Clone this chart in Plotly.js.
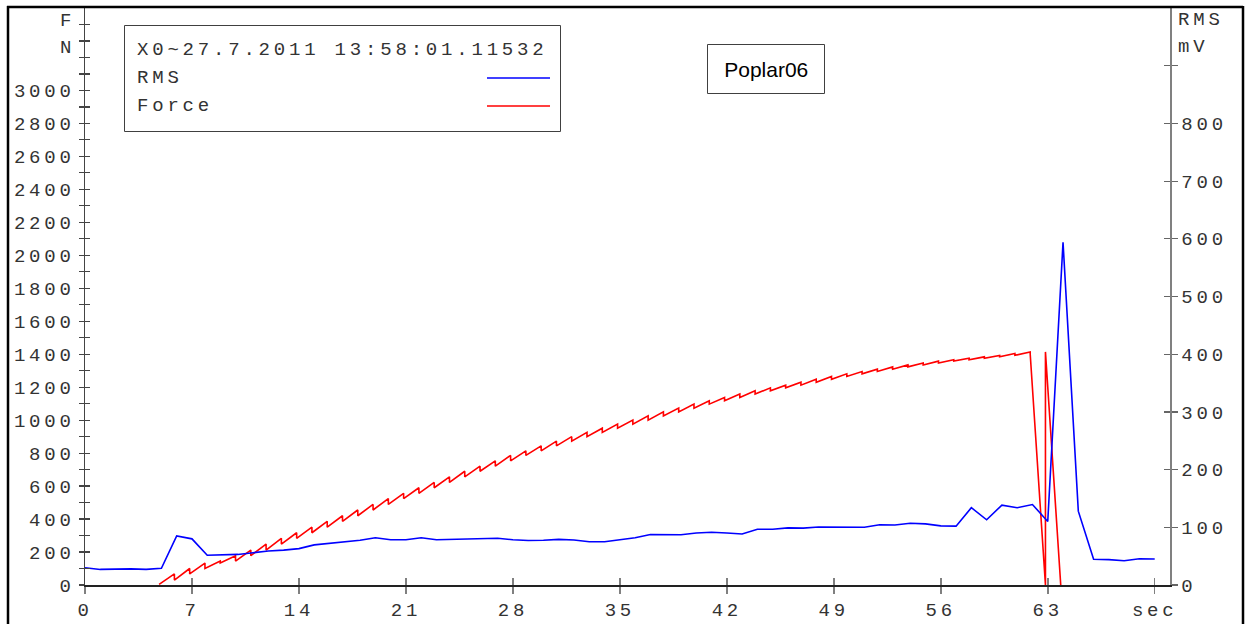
<!DOCTYPE html>
<html><head><meta charset="utf-8">
<script src="https://cdn.plot.ly/plotly-3.0.1.min.js"></script>
<style>
html,body{margin:0;padding:0;background:#fff;}
#chart{width:1245px;height:624px;}
svg text{letter-spacing:3.8px;}
g.annotation[data-index="0"] text{letter-spacing:0;}
</style></head><body><div id="chart"></div>
<script>
// RMS (mV), one sample per second
const rmsTime = [0,1,2,3,4,5,6,7,8,9,10,11,12,13,14,15,16,17,18,19,20,21,22,23,24,25,26,27,28,29,30,31,32,33,34,35,36,37,38,39,40,41,42,43,44,45,46,47,48,49,50,51,52,53,54,55,56,57,58,59,60,61,62,63,64,65,66,67,68,69,70];
const rmsValues = [30,27,27.5,28,27,29,85,80,51.5,52,53,56,59,60.5,63,69.5,72.5,75,77.5,82,78.5,78.5,82,78.5,79,80,80,81,78.5,77,77.5,79,78,75,75,79,82,87.5,87,87,90,91.5,90,88.5,96.5,96.5,99,98.5,100.5,100.5,99.5,100,104.5,104,107,106,102.5,102,134,113,138.5,134,139.5,110,594,128,44.5,44,42,45.5,45];

// Force (N): value reached at each sample time (sawtooth trace drops back to the previous value)
const forceTime = [3.85,4.85,5.85,6.85,7.85,8.85,9.85,10.85,11.85,12.85,13.85,14.85,15.85,16.85,17.85,18.85,19.85,20.85,21.85,22.85,23.85,24.85,25.85,26.85,27.85,28.85,29.85,30.85,31.85,32.85,33.85,34.85,35.85,36.85,37.85,38.85,39.85,40.85,41.85,42.85,43.85,44.85,45.85,46.85,47.85,48.85,49.85,50.85,51.85,52.85,53.85,54.85,55.85,56.85,57.85,58.85,59.85,60.85,61.85,62.85,63.85];
const forcePeak = [4,30,67,100,133,145,178,212,248,283,317,351,386,420,455,489,524,556,590,622,656,690,721,753,786,814,844,873,900,926,951,976,1000,1026,1050,1073,1097,1117,1137,1158,1178,1196,1212,1230,1248,1265,1281,1295,1309,1323,1335,1347,1358,1366,1375,1384,1393,1404,1414,0,0];

const timeTicks = [0,7,14,21,28,35,42,49,56,63,70];
const timeTickLabels = ['0','7','14','21','28','35','42','49','56','63','sec'];
const forceTicks = [0,100,200,300,400,500,600,700,800,900,1000,1100,1200,1300,1400,1500,1600,1700,1800,1900,2000,2100,2200,2300,2400,2500,2600,2700,2800,2900,3000,3100,3200,3300,3400];
const forceTickLabels = ['0','','200','','400','','600','','800','','1000','','1200','','1400','','1600','','1800','','2000','','2200','','2400','','2600','','2800','','3000','','','',''];
const rmsTicks = [0,100,200,300,400,500,600,700,800,900];
const rmsTickLabels = ['0','100','200','300','400','500','600','700','800',''];

const legendHeader = 'X0~27.7.2011 13:58:01.11532';
const seriesNames = ['RMS','Force'];
const chartLabel = 'Poplar06';

// build sawtooth force trace
const fx = [forceTime[1]], fy = [forcePeak[0]];
for (let i = 2; i < forceTime.length; i++) {
  fx.push(forceTime[i], forceTime[i]);
  fy.push(forcePeak[i], forcePeak[i-1]);
}

const L = 85, R = 75, T = 8, B = 39, W = 1245, H = 624;
const pw = W - L - R, ph = H - T - B;
const px = p => (p - L) / pw;
const py = p => (H - B - p) / ph;

const mono = 'Liberation Mono, Courier New, monospace';
const tcol = '#333';

const traces = [
  {x: fx, y: fy, mode: 'lines', line: {color: '#ff0000', width: 1.6}, xaxis: 'x', yaxis: 'y', name: seriesNames[1]},
  {x: rmsTime, y: rmsValues, mode: 'lines', line: {color: '#0000ff', width: 1.6}, xaxis: 'x', yaxis: 'y2', name: seriesNames[0]},
  {x: [], y: [], xaxis: 'x2', yaxis: 'y3', showlegend: false},
  {x: [], y: [], xaxis: 'x', yaxis: 'y4', showlegend: false}
];

const common = {showgrid: false, zeroline: false, fixedrange: true, tickmode: 'array'};

const layout = {
  width: W, height: H,
  margin: {l: L, r: R, t: T, b: B, pad: 0},
  paper_bgcolor: '#fff', plot_bgcolor: '#fff',
  showlegend: false, hovermode: false,
  font: {family: mono, size: 19, color: tcol},
  xaxis: Object.assign({}, common, {range: [0, 71], tickvals: timeTicks, ticktext: timeTickLabels,
    ticks: 'outside', ticklen: 7, tickwidth: 1.5, tickcolor: '#808080',
    showline: true, linecolor: '#222', linewidth: 1.5}),
  xaxis2: Object.assign({}, common, {overlaying: 'x', anchor: 'y', range: [0, 71], tickvals: timeTicks,
    ticks: 'inside', ticklen: 7, tickwidth: 1.5, tickcolor: '#808080', showticklabels: false, showline: false}),
  yaxis: Object.assign({}, common, {range: [0, 3500], tickvals: forceTicks, ticktext: forceTickLabels,
    ticks: 'outside', ticklen: 5, tickwidth: 1.2, tickcolor: '#444',
    showline: true, linecolor: '#444', linewidth: 1.5}),
  yaxis3: Object.assign({}, common, {overlaying: 'y', anchor: 'x2', side: 'left', range: [0, 3500], tickvals: forceTicks,
    ticks: 'inside', ticklen: 5, tickwidth: 1.2, tickcolor: '#444', showticklabels: false, showline: false}),
  yaxis2: Object.assign({}, common, {overlaying: 'y', side: 'right', anchor: 'x', range: [0, 1000], tickvals: rmsTicks, ticktext: rmsTickLabels,
    ticks: 'outside', ticklen: 6, tickwidth: 1.2, tickcolor: '#666',
    showline: true, linecolor: '#808080', linewidth: 1.5}),
  yaxis4: Object.assign({}, common, {overlaying: 'y', side: 'right', anchor: 'x', range: [0, 1000], tickvals: rmsTicks,
    ticks: 'inside', ticklen: 6, tickwidth: 1.2, tickcolor: '#666', showticklabels: false, showline: false}),
  shapes: [
    // outer frame
    {type: 'line', xref: 'paper', yref: 'paper', x0: px(7), x1: px(1243), y0: py(7), y1: py(7), line: {color: '#000', width: 2.5}},
    {type: 'line', xref: 'paper', yref: 'paper', x0: px(8), x1: px(8), y0: py(6), y1: py(640), line: {color: '#000', width: 2.5}},
    {type: 'line', xref: 'paper', yref: 'paper', x0: px(1243), x1: px(1243), y0: py(6), y1: py(640), line: {color: '#000', width: 2.5}},
    // legend box
    {type: 'rect', xref: 'paper', yref: 'paper', x0: px(124.5), x1: px(560.5), y0: py(131.5), y1: py(25.5), line: {color: '#404040', width: 1}, fillcolor: 'rgba(0,0,0,0)'},
    {type: 'line', xref: 'paper', yref: 'paper', x0: px(487), x1: px(550), y0: py(78), y1: py(78), line: {color: '#0000ff', width: 1.6}},
    {type: 'line', xref: 'paper', yref: 'paper', x0: px(487), x1: px(550), y0: py(106), y1: py(106), line: {color: '#ff0000', width: 1.6}},
    // label box
    {type: 'rect', xref: 'paper', yref: 'paper', x0: px(707.5), x1: px(824.5), y0: py(93.5), y1: py(44.5), line: {color: '#404040', width: 1}, fillcolor: 'rgba(0,0,0,0)'}
  ],
  annotations: [
    {text: chartLabel, xref: 'paper', yref: 'paper', x: px(766), y: py(69), xanchor: 'center', yanchor: 'middle', showarrow: false,
      font: {family: 'Liberation Sans, Arial, sans-serif', size: 21, color: '#000'}},
    {text: legendHeader, xref: 'paper', yref: 'paper', x: px(135), y: py(50), xanchor: 'left', yanchor: 'middle', showarrow: false},
    {text: seriesNames[0], xref: 'paper', yref: 'paper', x: px(135), y: py(78), xanchor: 'left', yanchor: 'middle', showarrow: false},
    {text: seriesNames[1], xref: 'paper', yref: 'paper', x: px(135), y: py(106), xanchor: 'left', yanchor: 'middle', showarrow: false},
    {text: 'F', xref: 'paper', yref: 'paper', x: px(77), y: py(21), xanchor: 'right', yanchor: 'middle', showarrow: false},
    {text: 'N', xref: 'paper', yref: 'paper', x: px(77), y: py(48.5), xanchor: 'right', yanchor: 'middle', showarrow: false},
    {text: 'RMS', xref: 'paper', yref: 'paper', x: px(1176), y: py(20), xanchor: 'left', yanchor: 'middle', showarrow: false},
    {text: 'mV', xref: 'paper', yref: 'paper', x: px(1176), y: py(47), xanchor: 'left', yanchor: 'middle', showarrow: false}
  ]
};

Plotly.newPlot('chart', traces, layout, {staticPlot: true, displayModeBar: false});
</script></body></html>
